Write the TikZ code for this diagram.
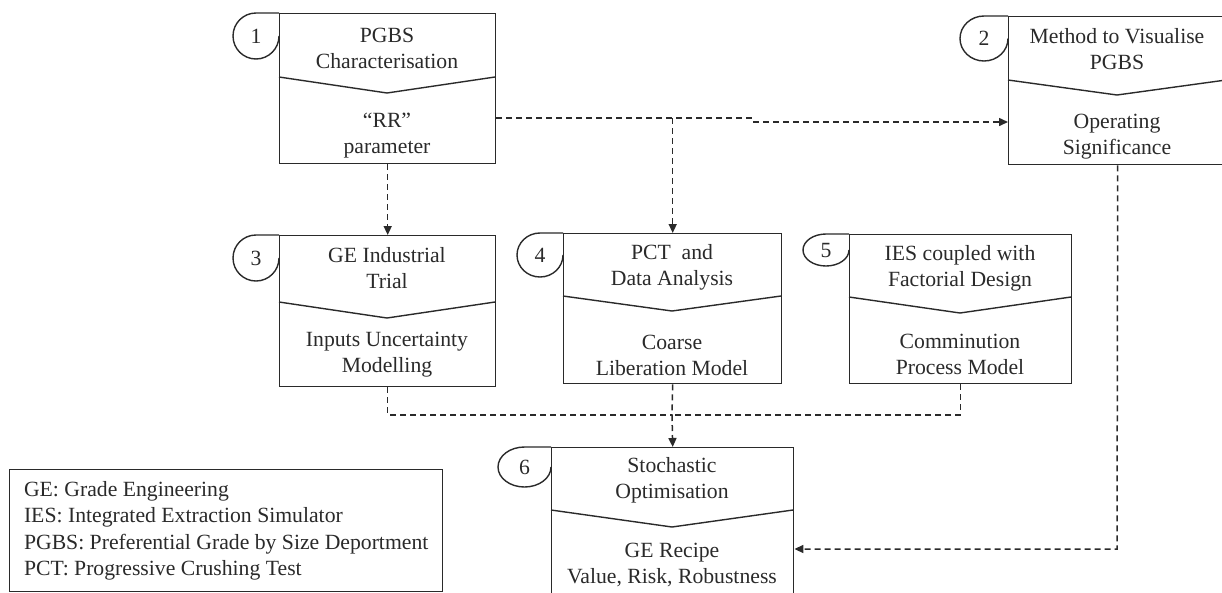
\documentclass[tikz,border=0pt]{standalone}
\usepackage{fontspec}
\setmainfont{Liberation Serif}
\usetikzlibrary{arrows.meta,calc}
\definecolor{ink}{HTML}{2A2A2A}
\tikzset{
  frame/.style={draw=ink, line width=1.4pt},
  boxframe/.style={frame, rectangle, inner sep=0pt},
  txt/.style={font=\fontsize{21.7}{26}\selectfont, text=ink, align=center, inner sep=0pt},
  numtext/.style={font=\fontsize{21.7}{26}\selectfont, text=ink, inner sep=0pt},
  conn/.style={draw=ink, line width=1.5pt, dash pattern=on 6pt off 4pt},
  arr/.style={-{Triangle[length=9pt,width=8pt]}},
}
% process box: name, left, top, right, bottom, divider side y, divider dip y
\newcommand\flowbox[7]{%
  \node[boxframe, minimum width={(#4-#2)*1pt}, minimum height={(#5-#3)*1pt},
        anchor=north west] (#1) at (#2,#3) {};
  \draw[frame] (#2,#6) -- ({(#2+#4)/2},#7) -- (#4,#6);
}
% numbered tab on the upper left corner: box name, x radius, y radius, number
\newcommand\flowtab[4]{%
  \draw[frame] (#1.north west) -- ++(-#2,0)
    arc[start angle=90, end angle=360, x radius=#2pt, y radius=#3pt];
  \node[numtext] (#1num) at ($(#1.north west)+(-#2,#3)$) {#4};
}
\begin{document}
\begin{tikzpicture}[x=1pt,y=-1pt]
\useasboundingbox (0,0) rectangle (1222,592);
\clip (0,0) rectangle (1222,592);

% boxes
\flowbox{b1}{279}{13}{495}{163}{77}{93}
\flowtab{b1}{23}{23}{1}
\node[txt] (b1up)  at (387,48)  {PGBS\\Characterisation};
\node[txt] (b1low) at (387,136) {“RR”\\parameter};

\flowbox{b2}{1008}{16}{1226}{164}{80}{95}
\flowtab{b2}{24}{22.5}{2}
\node[txt] (b2up)  at (1117,49)  {Method to Visualise\\PGBS};
\node[txt] (b2low) at (1117,137) {Operating\\Significance};

\flowbox{b3}{279}{235}{495}{386}{302}{318}
\flowtab{b3}{23}{23}{3}
\node[txt] (b3up)  at (387,268) {GE Industrial\\Trial};
\node[txt] (b3low) at (387,355) {Inputs Uncertainty\\Modelling};

\flowbox{b4}{563}{233}{781}{383}{296}{311}
\flowtab{b4}{23}{22}{4}
\node[txt] (b4up)  at (672,267) {PCT~ and\\Data Analysis};
\node[txt] (b4low) at (672,355) {Coarse\\Liberation Model};

\flowbox{b5}{849}{234}{1071}{383}{297}{313}
\flowtab{b5}{23}{16}{5}
\node[txt] (b5up)  at (960,268) {IES coupled with\\Factorial Design};
\node[txt] (b5low) at (960,354) {Comminution\\Process Model};

\flowbox{b6}{551}{447}{793}{600}{510}{527}
\flowtab{b6}{26.5}{20}{6}
\node[txt] (b6up)  at (672,480) {Stochastic\\Optimisation};
\node[txt] (b6low) at (672,565) {GE Recipe\\Value, Risk, Robustness};

% abbreviations
\node[boxframe, minimum width=433pt, minimum height=122pt, anchor=north west,
      font=\fontsize{21.7}{26.3}\selectfont, text=ink, align=left]
  (legend) at (9,469)
  {GE: Grade Engineering\\
   IES: Integrated Extraction Simulator\\
   PGBS: Preferential Grade by Size Deportment\\
   PCT: Progressive Crushing Test};

% connectors
\coordinate (j1) at (753,118);
\coordinate (j2) at (753,122);
\draw[conn] (b1.east |- j1) -- (j1);
\draw[conn,arr] (j2) -- (j2 -| b2.west);
\draw[conn,arr] (b4.north |- j1) -- (b4.north);
\draw[conn,arr] (b1.south) -- (b3.north);

\coordinate (m) at (672,415);
\draw[conn] (b3.south) |- (m);
\draw[conn] (b5.south) |- (m);
\draw[conn] (b4.south) -- (m);
\draw[conn,arr] (m) -- (b6.north);

\coordinate (k) at (1117,549);
\draw[conn,arr] (b2.south) -- (k) -- (k -| b6.east);
\end{tikzpicture}
\end{document}
